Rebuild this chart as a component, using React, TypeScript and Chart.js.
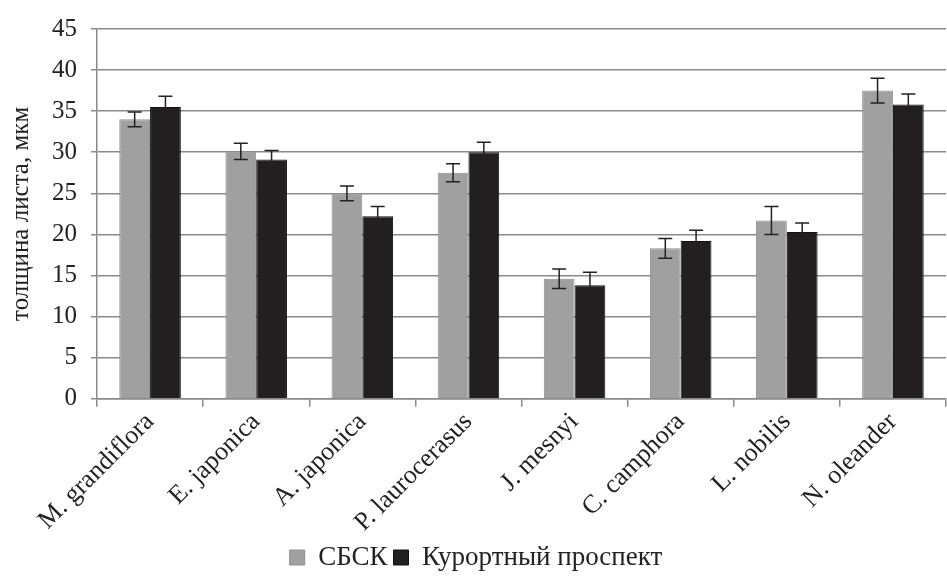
import React, { useEffect, useRef } from "react";
import { Chart, registerables } from "chart.js";

Chart.register(...registerables);

const categories = [
  "M. grandiflora",
  "E. japonica",
  "A. japonica",
  "P. laurocerasus",
  "J. mesnyi",
  "C. camphora",
  "L. nobilis",
  "N. oleander",
];
const sbskValues = [34.0, 30.1, 25.0, 27.5, 14.6, 18.3, 21.7, 37.5];
const sbskErrors = [0.9, 1.0, 0.9, 1.1, 1.2, 1.2, 1.7, 1.5];
const resortValues = [35.5, 29.1, 22.2, 30.0, 13.8, 19.2, 20.3, 35.8];
const resortErrors = [1.3, 1.1, 1.2, 1.2, 1.6, 1.3, 1.1, 1.3];
const seriesNames = ["СБСК", "Курортный проспект"];
const yTitle = "толщина листа, мкм";

const errorsBySeries = [sbskErrors, resortErrors];

const errorBarPlugin = {
  id: "errorBars",
  afterDatasetsDraw(chart: any) {
    const ctx = chart.ctx;
    const yScale = chart.scales.y;
    ctx.save();
    ctx.strokeStyle = "#222";
    ctx.lineWidth = 1.5;
    chart.data.datasets.forEach((ds: any, di: number) => {
      const meta = chart.getDatasetMeta(di);
      const errs = errorsBySeries[di];
      meta.data.forEach((bar: any, i: number) => {
        const v = ds.data[i];
        const e = errs[i];
        const x = bar.x;
        const yTop = yScale.getPixelForValue(v + e);
        const yBot = yScale.getPixelForValue(v - e);
        const cap = 7;
        ctx.beginPath();
        ctx.moveTo(x, yTop);
        ctx.lineTo(x, yBot);
        ctx.moveTo(x - cap, yTop);
        ctx.lineTo(x + cap, yTop);
        ctx.moveTo(x - cap, yBot);
        ctx.lineTo(x + cap, yBot);
        ctx.stroke();
      });
    });
    ctx.restore();
  },
};

export default function App() {
  const ref = useRef<HTMLCanvasElement | null>(null);
  useEffect(() => {
    document.body.style.margin = "0";
    const font = "'Liberation Serif', 'Times New Roman', serif";
    const chart = new Chart(ref.current as HTMLCanvasElement, {
      type: "bar",
      data: {
        labels: categories,
        datasets: [
          {
            label: seriesNames[0],
            data: sbskValues,
            backgroundColor: "#a0a0a0",
            borderColor: "#8f8f8f",
            borderWidth: 1,
            categoryPercentage: 0.58,
            barPercentage: 1,
          },
          {
            label: seriesNames[1],
            data: resortValues,
            backgroundColor: "#231f20",
            borderColor: "#111",
            borderWidth: 1,
            categoryPercentage: 0.58,
            barPercentage: 1,
          },
        ],
      },
      options: {
        animation: false,
        responsive: true,
        maintainAspectRatio: false,
        layout: { padding: { top: 6, right: 1, left: 6, bottom: 0 } },
        plugins: {
          legend: {
            position: "bottom",
            labels: {
              boxWidth: 15,
              boxHeight: 15,
              padding: 6,
              color: "#222",
              font: { family: font, size: 27 },
            },
          },
          tooltip: { enabled: false },
        },
        scales: {
          x: {
            grid: {
              offset: true,
              drawOnChartArea: false,
              drawTicks: true,
              tickLength: 8,
              color: "#8a8a8a",
              lineWidth: 1.5,
            },
            border: { display: true, color: "#8a8a8a", width: 1.5 },
            ticks: {
              maxRotation: 45,
              minRotation: 45,
              color: "#222",
              font: { family: font, size: 26 },
              padding: 0,
            },
          },
          y: {
            min: 0,
            max: 45,
            ticks: {
              stepSize: 5,
              color: "#222",
              font: { family: font, size: 25 },
              padding: 14,
            },
            grid: {
              color: "#8a8a8a",
              lineWidth: 1.5,
              drawTicks: true,
              tickLength: 6,
            },
            border: { display: true, color: "#8a8a8a", width: 1.5 },
            title: {
              display: true,
              text: yTitle,
              color: "#222",
              font: { family: font, size: 25 },
              padding: { top: 0, bottom: 2 },
            },
          },
        },
      },
      plugins: [errorBarPlugin],
    });
    return () => chart.destroy();
  }, []);
  return (
    <div style={{ width: 947, height: 581, position: "relative" }}>
      <canvas ref={ref} />
    </div>
  );
}
